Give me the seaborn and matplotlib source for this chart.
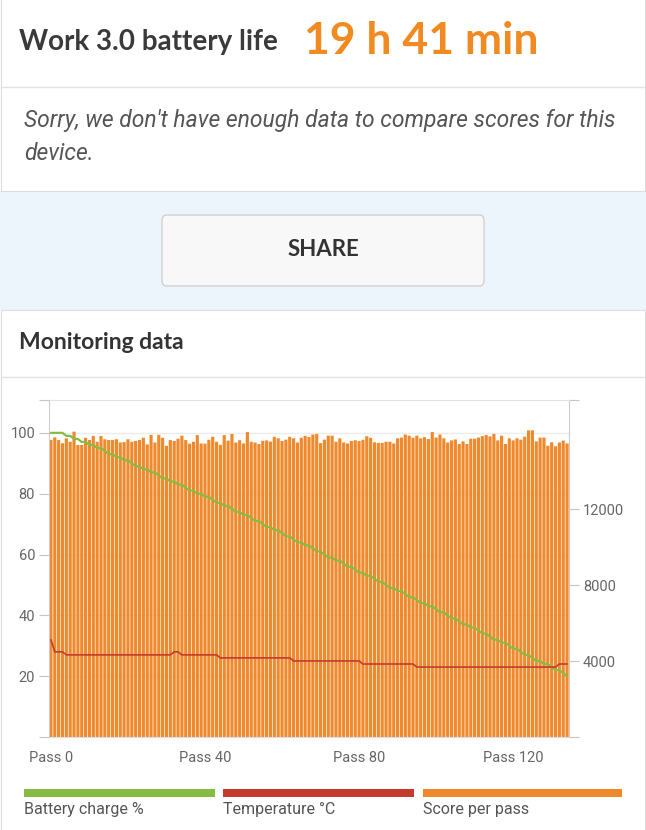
import numpy as np
import pandas as pd
import matplotlib
matplotlib.use('Agg')
import matplotlib.pyplot as plt
from matplotlib.patches import Rectangle, FancyBboxPatch
from matplotlib.transforms import blended_transform_factory
import seaborn as sns

# score per pass
scores = [15630, 15770, 15630, 15460, 15720, 15540, 16070, 15370, 15370, 15750,
          15630, 15840, 15540, 15840, 15670, 15630, 15630, 15670, 15500, 15520,
          15670, 15540, 15580, 15630, 15750, 15400, 15900, 15500, 15900, 15750,
          15330, 15630, 15580, 15700, 15860, 15630, 15440, 15540, 15890, 15450,
          15440, 15640, 15800, 15540, 15380, 15890, 15600, 15950, 15500, 15620,
          15450, 16050,
          15540, 15500, 15420, 15590, 15610, 15550, 15800, 15720, 15580, 15650,
          15800, 15720, 15500, 15750, 15850, 15790, 15920, 15950, 15470, 15650,
          15860, 15860, 15540, 15720, 15500, 15450, 15580, 15620, 15580, 15640,
          15830, 15750, 15510, 15480, 15480, 15540, 15540, 15450, 15720, 15760,
          15920, 15860, 15750, 15860, 15720, 15780, 15680, 16050, 15760, 15920,
          15720, 15500, 15610, 15660, 15420, 15560, 15420, 15700, 15700, 15760,
          15830, 15890, 15820, 15950, 15610, 15860, 15420, 15720, 15610, 15720,
          15650, 15810, 16140, 16140, 15560, 15760, 15760, 15330, 15510, 15300,
          15500, 15600, 15450]

# battery charge % per pass
battery = [100, 100, 100, 100, 99, 99, 98, 98, 97, 97,
           96, 96, 95, 95, 94, 93, 93, 92, 92, 91,
           91, 90, 89, 89, 88, 88, 87, 87, 86, 85,
           85, 84, 84, 83, 83, 82, 81, 81, 80, 80,
           79, 79, 78, 77, 77, 76, 76, 75, 74, 74,
           73, 73, 72, 71, 71, 70, 69, 69, 68, 68,
           67, 66, 66, 65, 64, 64, 63, 63, 62, 61,
           61, 60, 59, 59, 58, 58, 57, 56, 56, 55,
           54, 54, 53, 53, 52, 51, 51, 50, 49, 49,
           48, 48, 47, 46, 46, 45, 44, 44, 43, 43,
           42, 41, 41, 40, 39, 39, 38, 37, 37, 36,
           36, 35, 34, 34, 33, 32, 32, 31, 31, 30,
           29, 29, 28, 27, 27, 26, 25, 25, 24, 24,
           23, 22, 22, 21, 20]

# temperature in steps: level and how many passes it lasts
temp_levels = [32, 28, 27, 28, 27, 26, 25, 24, 23, 24]
temp_runs = [1, 3, 28, 2, 10, 19, 18, 14, 37, 3]

pass_ticks = [0, 40, 80, 120]
pass_labels = ['Pass 0', 'Pass 40', 'Pass 80', 'Pass 120']
left_ticks = [0, 20, 40, 60, 80, 100]
right_ticks = [0, 4000, 8000, 12000]

legend_labels = ['Battery charge %', 'Temperature °C', 'Score per pass']

GREEN = '#86bc43'
RED = '#c63a2e'
ORANGE = '#ef892c'

temps = np.repeat(temp_levels, temp_runs)
df = pd.DataFrame({'pass': np.arange(len(scores)), 'score': scores,
                   'battery': battery, 'temp': temps})

sns.set_style('white')
plt.rcParams['font.family'] = ['Roboto', 'DejaVu Sans']

W, H = 646, 830
fig = plt.figure(figsize=(W / 100, H / 100), dpi=100)
fig.patch.set_facecolor('white')


def box(x0, y0, x1, y1, z=-5, **kw):
    fig.add_artist(Rectangle((x0 / W, 1 - y1 / H), (x1 - x0) / W, (y1 - y0) / H,
                             transform=fig.transFigure, zorder=z, **kw))


def hline(y, color='#e3e3e3'):
    fig.add_artist(plt.Line2D([1 / W, 644 / W], [1 - y / H] * 2, zorder=-4,
                              transform=fig.transFigure, color=color, lw=1))


def text(x, y, s, **kw):
    fig.text(x / W, 1 - y / H, s, **kw)


# page cards
box(0, 191, W, 310, facecolor='#edf5fc', edgecolor='none', z=-6)
box(0.5, -5, 644.5, 191, facecolor='white', edgecolor='#dcdcdc', lw=0.8)
hline(87)
box(0.5, 310, 644.5, 840, facecolor='white', edgecolor='#dcdcdc', lw=0.8)
hline(377)

text(19, 42, 'Work 3.0 battery life', family='Lato', weight='bold', size=20,
     color='#3a3a3a', va='center')
text(304, 41, '19 h 41 min', family='Lato', weight='bold', size=32,
     color='#f28a22', va='center')
text(24, 120, "Sorry, we don't have enough data to compare scores for this",
     style='italic', size=16.5, color='#555555', va='center')
text(24, 153, 'device.', style='italic', size=16.5,
     color='#555555', va='center')

fig.add_artist(FancyBboxPatch((162 / W, 1 - 286 / H), 322 / W, 71 / H,
                              boxstyle='round,pad=0,rounding_size=0.007',
                              transform=fig.transFigure, facecolor='#f8f8f8',
                              edgecolor='#c8c8c8', lw=0.8, zorder=-4))
text(323, 249, 'SHARE', family='Lato', weight='bold', size=16, color='#333333',
     ha='center', va='center')
text(19, 342, 'Monitoring data', family='Lato', weight='bold', size=16.5,
     color='#333333', va='center')

# chart: bars on the right axis, lines on the left one
ax = fig.add_axes([49 / W, 1 - 737 / H, 520 / W, 337 / H])
sns.barplot(data=df, x='pass', y='score', native_scale=True, color=ORANGE,
            saturation=1, width=0.82, errorbar=None, ax=ax, zorder=2,
            linewidth=0, edgecolor='none', snap=False)
ax.set_xlim(-0.5, len(scores) - 0.5)
ax.set_ylim(0, 17737)
ax.set_xticks(pass_ticks + [len(scores) - 0.5])
ax.set_xticklabels(pass_labels + [''])
ax.set_xlabel('')
ax.set_ylabel('')

ax2 = ax.twinx()
ax.yaxis.tick_right()
ax.set_yticks(right_ticks + [17737])
ax.set_yticklabels([''] + [str(t) for t in right_ticks[1:]] + [''])
ax2.yaxis.tick_left()
ax2.set_ylim(0, 110.8)
ax2.set_yticks(left_ticks + [110.8])
ax2.set_yticklabels([''] + [str(t) for t in left_ticks[1:]] + [''])

# light grid of the left scale, behind the bars
tr = blended_transform_factory(ax.transAxes, ax2.transData)
for t in left_ticks[1:]:
    ax.plot([0, 1], [t, t], transform=tr, color='#ececec', lw=1, zorder=0)

sns.lineplot(data=df, x='pass', y='battery', ax=ax2, color=GREEN, lw=1.6)
sns.lineplot(data=df, x='pass', y='temp', ax=ax2, color=RED, lw=1.2)
ax2.set_xlabel('')
ax2.set_ylabel('')

for a in (ax, ax2):
    a.tick_params(axis='y', length=7, color='#c4c4c4', labelcolor='#666666',
                  labelsize=10.5, pad=3)
ax.tick_params(axis='x', length=7, color='#a0a0a0', labelcolor='#666666',
               labelsize=10.5, pad=3)
ax.spines['left'].set_color('#cccccc')
ax.spines['right'].set_color('#cccccc')
ax.spines['top'].set_color('#e3e3e3')
ax.spines['bottom'].set_color('#dddddd')
for s in ax2.spines.values():
    s.set_visible(False)

# legend strip at the bottom
legend_x = [(24, 215), (223, 414), (423, 622)]
for (x0, x1), c, lab in zip(legend_x, [GREEN, RED, ORANGE], legend_labels):
    box(x0, 789, x1, 797, facecolor=c, edgecolor='none', z=1)
    text(x0, 809, lab, size=11.5, color='#555555', va='center')

fig.savefig('out.png', dpi=100)
